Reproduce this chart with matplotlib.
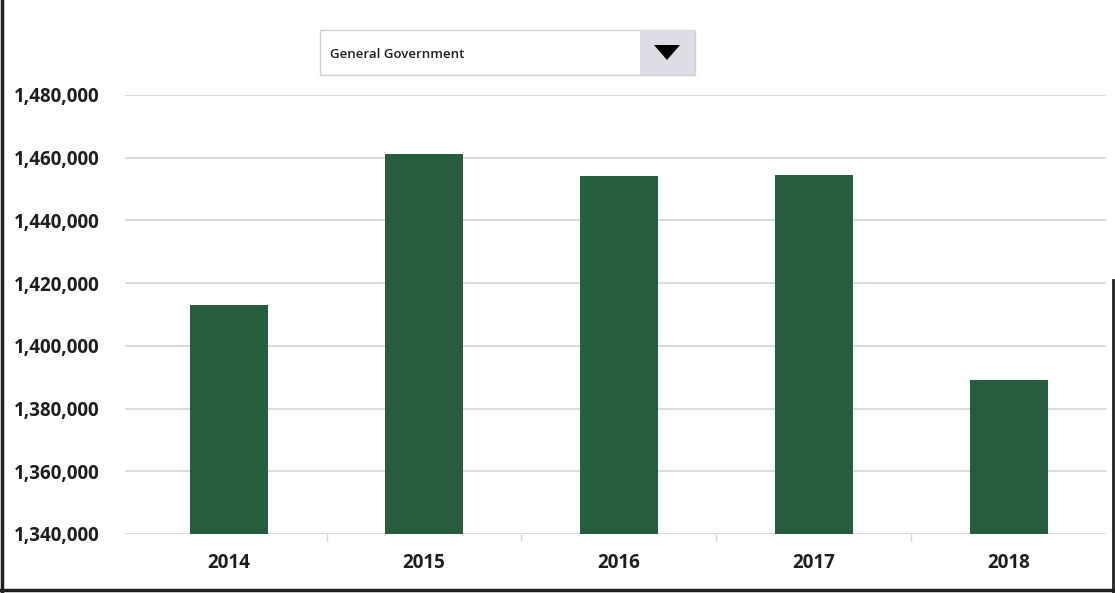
import matplotlib.pyplot as plt
from matplotlib.patches import Rectangle, Polygon
from matplotlib.lines import Line2D
from matplotlib.ticker import FuncFormatter, FixedLocator

# Data
years = ['2014', '2015', '2016', '2017', '2018']
values = [1413000, 1461000, 1454000, 1454500, 1389000]
y_ticks = [1340000, 1360000, 1380000, 1400000, 1420000, 1440000, 1460000, 1480000]
dropdown_label = 'General Government'

BAR_COLOR = '#275c3e'
GRID_COLOR = '#d3d3da'
TEXT_COLOR = '#1e1e1e'

plt.rcParams['font.family'] = ['Open Sans', 'DejaVu Sans']

fig = plt.figure(figsize=(11.15, 5.93), dpi=100)
ax = fig.add_axes([0.112, 0.0995, 0.88, 0.7405])

x = range(len(years))
ax.bar(x, values, width=0.4, color=BAR_COLOR, zorder=3)

ax.set_xlim(-0.535, 4.5)
ax.set_ylim(y_ticks[0], y_ticks[-1])
ax.set_yticks(y_ticks)
ax.yaxis.set_major_formatter(FuncFormatter(lambda v, p: f'{int(v):,}'))
ax.set_xticks(list(x))
ax.set_xticklabels(years)
ax.xaxis.set_minor_locator(FixedLocator([0.5, 1.5, 2.5, 3.5]))

ax.grid(axis='y', color=GRID_COLOR, linewidth=1.2, zorder=0)
for s in ax.spines.values():
    s.set_visible(False)
ax.tick_params(axis='y', length=0, pad=18, labelsize=13.5, labelcolor=TEXT_COLOR)
ax.tick_params(axis='x', which='major', length=0, pad=14, labelsize=13.5, labelcolor=TEXT_COLOR)
ax.tick_params(axis='x', which='minor', length=5, color=GRID_COLOR, width=1)
for lab in ax.get_xticklabels() + ax.get_yticklabels():
    lab.set_fontweight('bold')

# Dropdown widget above the chart
fig.add_artist(Rectangle((320 / 1115, 1 - 75 / 593), 375 / 1115, 45 / 593,
                         transform=fig.transFigure, facecolor='white',
                         edgecolor='#d0d0d0', linewidth=1))
fig.add_artist(Rectangle((640 / 1115, 1 - 75 / 593), 55 / 1115, 45 / 593,
                         transform=fig.transFigure, facecolor='#dcdce4',
                         edgecolor='none'))
fig.add_artist(Polygon([(654 / 1115, 1 - 45 / 593), (680 / 1115, 1 - 45 / 593),
                        (667 / 1115, 1 - 60 / 593)], closed=True,
                       transform=fig.transFigure, facecolor='black', edgecolor='none'))
fig.text(330 / 1115, 1 - 54 / 593, dropdown_label, fontsize=9.5, color=TEXT_COLOR,
         va='center', ha='left', fontweight='semibold')

# Frame around the picture
fig.add_artist(Line2D([2 / 1115, 2 / 1115], [0, 1], transform=fig.transFigure,
                      color='#222222', linewidth=2.5))
fig.add_artist(Line2D([0, 1], [3 / 593, 3 / 593], transform=fig.transFigure,
                      color='#222222', linewidth=2.5))
fig.add_artist(Line2D([1113 / 1115, 1113 / 1115], [0, 1 - 280 / 593],
                      transform=fig.transFigure, color='#222222', linewidth=2))

fig.savefig('out.png', dpi=100, facecolor='white')
